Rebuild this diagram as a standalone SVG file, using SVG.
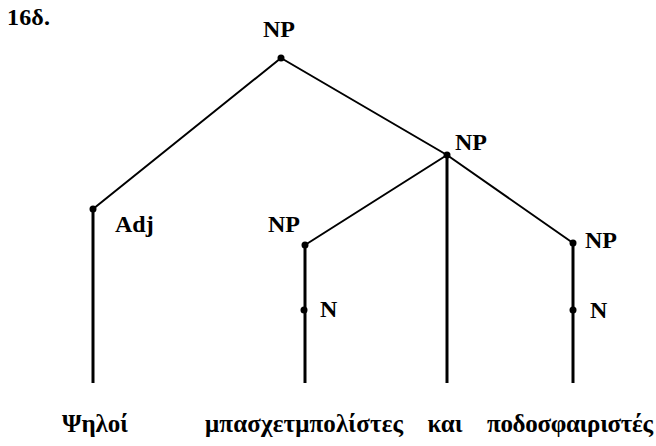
<svg xmlns="http://www.w3.org/2000/svg" width="656" height="446" viewBox="0 0 656 446">
<style>
.lbl{font-family:"Liberation Serif","DejaVu Serif",serif;font-weight:bold;font-size:24px;fill:#000}
.word{font-family:"Liberation Serif","DejaVu Serif",serif;font-weight:bold;font-size:25px;fill:#000;text-anchor:middle}
.br{stroke:#000;stroke-width:2;fill:none;stroke-linecap:round}
.st{stroke:#000;stroke-width:3;fill:none}
.dot{fill:#000}
</style>
<rect width="656" height="446" fill="#fff"/>
<text class="lbl" x="7" y="25" font-size="21" textLength="43">16δ.</text>
<g id="connectors">
<line class="br" x1="281" y1="58" x2="93" y2="209"/>
<line class="br" x1="281" y1="58" x2="447" y2="155"/>
<line class="br" x1="447" y1="155" x2="305" y2="245"/>
<line class="br" x1="447" y1="155" x2="573" y2="243"/>
<line class="st" x1="93" y1="209" x2="93" y2="383"/>
<line class="st" x1="305" y1="245" x2="305" y2="383"/>
<line class="st" x1="447" y1="155" x2="447" y2="383" stroke-width="4"/>
<line class="st" x1="573" y1="243" x2="573" y2="383"/>
</g>
<g id="np-root"><circle class="dot" cx="281" cy="58" r="3.5"/><text class="lbl" x="263" y="37">NP</text></g>
<g id="adj"><circle class="dot" cx="93" cy="209" r="3.5"/><text class="lbl" x="115" y="232">Adj</text></g>
<g id="np-coord"><circle class="dot" cx="447" cy="155" r="3.5"/><text class="lbl" x="455" y="150">NP</text></g>
<g id="np-left"><circle class="dot" cx="305" cy="245" r="3.5"/><text class="lbl" x="268" y="232">NP</text></g>
<g id="np-right"><circle class="dot" cx="573" cy="243" r="3.5"/><text class="lbl" x="585" y="248">NP</text></g>
<g id="n-left"><circle class="dot" cx="304" cy="310" r="3.5"/><text class="lbl" x="320" y="317">N</text></g>
<g id="n-right"><circle class="dot" cx="573" cy="310" r="3.5"/><text class="lbl" x="590" y="318">N</text></g>
<g id="w1"><text class="word" x="95" y="432" textLength="66">Ψηλοί</text></g>
<g id="w2"><text class="word" x="304" y="432" textLength="198">μπασχετμπολίστες</text></g>
<g id="w3"><text class="word" x="445" y="432" textLength="35">και</text></g>
<g id="w4"><text class="word" x="570" y="432" textLength="166">ποδοσφαιριστές</text></g>
</svg>
